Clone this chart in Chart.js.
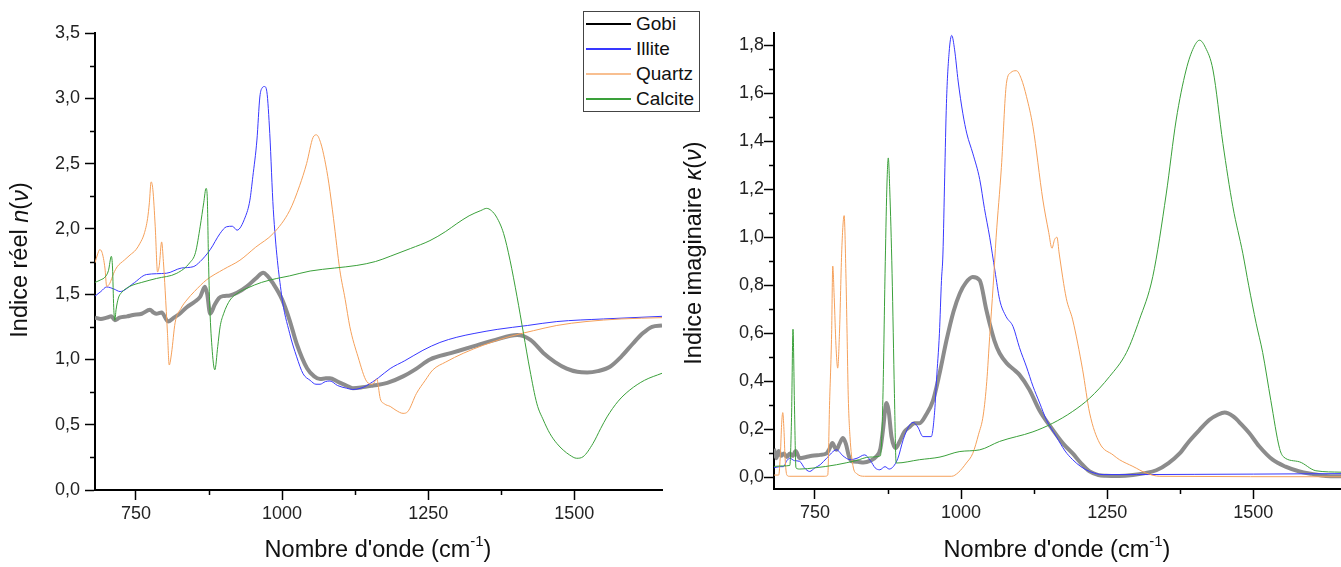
<!DOCTYPE html>
<html lang="fr">
<head>
<meta charset="UTF-8">
<title>Indices optiques</title>
<script src="https://cdn.jsdelivr.net/npm/chart.js"></script>
<style>
  body { margin: 0; background: #fff; }
  #wrap { position: relative; width: 1341px; height: 567px; }
  canvas { position: absolute; top: 0; }
  #nChart { left: 0; }
  #kChart { left: 680px; }
  .legend { position: absolute; left: 583px; top: 11px; width: 115px; height: 99px;
            border: 1px solid #444; background: #fff; font: 19px "Liberation Sans", Arial, sans-serif; color: #111; }
  .legend .row { position: absolute; left: 0; height: 25px; width: 100%; }
  .legend .sw { position: absolute; left: 2px; width: 45px; top: 11px; height: 2px; }
  .legend .lb { position: absolute; left: 52px; top: 0px; line-height: 23px; }
</style>
</head>
<body>
<div id="wrap">
  <canvas id="nChart" width="680" height="567"></canvas>
  <canvas id="kChart" width="661" height="567"></canvas>
  <div class="legend" id="legend"></div>
</div>

<script>
// ---------- left panel : real index n(v) ----------
const nGobiX = [680,690,700,708,714,722,735,745,760,774,780,785,794,805,815,825,837,850,860,868,872,877,885,892,899,911,923,940,955,968,975,985,1000,1013,1025,1043,1055,1065,1075,1082,1095,1110,1121,1135,1156,1180,1207,1230,1253,1290,1327,1365,1402,1425,1447,1467,1487,1505,1522,1540,1561,1580,1600,1617,1633,1650];
const nGobiY = [1.32,1.31,1.32,1.33,1.30,1.32,1.33,1.34,1.35,1.38,1.36,1.35,1.36,1.29,1.32,1.35,1.40,1.44,1.48,1.556,1.50,1.35,1.42,1.47,1.485,1.49,1.51,1.56,1.62,1.664,1.64,1.58,1.46,1.30,1.12,0.93,0.87,0.85,0.855,0.855,0.83,0.80,0.78,0.785,0.80,0.82,0.87,0.93,1.00,1.05,1.10,1.15,1.187,1.15,1.05,0.98,0.93,0.905,0.90,0.91,0.944,1.02,1.12,1.20,1.25,1.26];

const nIlliteX = [680,690,700,712,723,745,768,802,828,848,860,877,894,905,915,923,937,945,950,957,962,966,970,974,979,985,999,1013,1025,1036,1048,1058,1065,1074,1082,1095,1110,1121,1135,1145,1165,1185,1210,1241,1270,1299,1330,1368,1420,1470,1550,1650];
const nIlliteY = [1.485,1.52,1.555,1.54,1.52,1.58,1.65,1.66,1.70,1.71,1.75,1.84,1.965,2.016,2.02,1.99,2.09,2.22,2.40,2.68,3.01,3.08,3.09,3.05,2.73,2.15,1.50,1.20,1.02,0.89,0.84,0.81,0.81,0.83,0.835,0.80,0.78,0.77,0.78,0.80,0.86,0.93,0.99,1.07,1.13,1.17,1.20,1.23,1.26,1.29,1.31,1.33];

const nQuartzX = [680,684,688,692,697,700,705,712,718,730,740,750,757,764,770,773,776,779,783,787,790,794,797,800,804,807,811,817,827,837,850,871,900,928,955,985,1013,1030,1042,1053,1059,1066,1073,1080,1088,1099,1108,1116,1130,1145,1155,1162,1168,1175,1185,1195,1207,1215,1230,1245,1258,1280,1310,1345,1385,1430,1470,1520,1580,1650];
const nQuartzY = [1.74,1.80,1.84,1.82,1.70,1.56,1.58,1.66,1.71,1.76,1.80,1.84,1.89,1.96,2.08,2.20,2.36,2.30,2.02,1.67,1.72,1.90,1.75,1.53,1.20,0.957,1.05,1.28,1.39,1.455,1.52,1.61,1.69,1.76,1.86,1.965,2.14,2.33,2.50,2.70,2.72,2.66,2.53,2.35,2.08,1.68,1.46,1.25,1.02,0.83,0.81,0.85,0.70,0.66,0.64,0.61,0.587,0.60,0.74,0.84,0.92,0.98,1.047,1.11,1.17,1.22,1.26,1.29,1.31,1.32];

const nCalciteX = [680,690,697,703,708,710,712,714,716,720,725,740,760,785,820,842,852,860,866,870,872,874,876,880,885,890,894,900,911,925,940,965,991,1013,1048,1090,1128,1160,1185,1220,1253,1280,1299,1320,1340,1350,1358,1367,1379,1390,1402,1413,1424,1436,1447,1458,1470,1481,1492,1504,1515,1532,1545,1556,1575,1595,1620,1650];
const nCalciteY = [1.59,1.61,1.63,1.68,1.79,1.70,1.40,1.30,1.38,1.47,1.51,1.56,1.59,1.62,1.66,1.74,1.82,2.02,2.20,2.31,2.25,1.80,1.45,1.10,0.92,1.10,1.25,1.35,1.455,1.51,1.545,1.59,1.62,1.64,1.677,1.70,1.72,1.75,1.79,1.85,1.91,1.98,2.04,2.10,2.14,2.157,2.14,2.09,1.965,1.76,1.48,1.20,0.92,0.66,0.536,0.434,0.357,0.306,0.268,0.243,0.255,0.357,0.47,0.56,0.68,0.766,0.84,0.894];

// ---------- right panel : imaginary index k(v) ----------
const kGobiX = [680,684,688,692,697,702,707,712,717,724,735,745,759,770,775,780,784,787,792,798,803,808,813,823,833,845,855,862,867,870,872.5,876,881,888,895,903,912,920,929,940,952,963,975,987,998,1008,1020,1032,1043,1049,1057,1066,1078,1090,1100,1117,1134,1157,1175,1191,1205,1220,1235,1248,1270,1294,1315,1334,1355,1374,1390,1408,1425,1440,1451,1465,1480,1493,1510,1533,1555,1579,1600,1624,1650];
const kGobiY = [0.12,0.08,0.11,0.09,0.10,0.085,0.10,0.09,0.11,0.08,0.085,0.09,0.094,0.10,0.12,0.143,0.125,0.115,0.14,0.164,0.14,0.09,0.067,0.065,0.062,0.07,0.087,0.12,0.21,0.28,0.31,0.28,0.17,0.122,0.15,0.19,0.21,0.226,0.226,0.26,0.32,0.43,0.57,0.69,0.767,0.81,0.834,0.82,0.70,0.64,0.57,0.517,0.476,0.45,0.427,0.365,0.28,0.198,0.14,0.10,0.06,0.025,0.01,0.007,0.006,0.01,0.018,0.03,0.06,0.10,0.15,0.198,0.24,0.262,0.27,0.255,0.22,0.185,0.13,0.074,0.045,0.025,0.015,0.006,0.005];

const kIlliteX = [680,690,696,702,707,715,724,732,741,750,759,770,787,798,810,822,835,845,853,861,870,877,884,892,901,910,918,926,935,949,955,958,963,966.5,969,972,975,979.6,984,989,995,1003,1010,1020,1032,1040,1049,1058,1066,1077,1089,1100,1112,1123,1134.5,1146,1163,1178,1191,1205,1220,1243,1300,1400,1500,1650];
const kIlliteY = [0.04,0.045,0.045,0.07,0.08,0.07,0.067,0.04,0.025,0.04,0.053,0.08,0.115,0.09,0.074,0.08,0.094,0.07,0.04,0.032,0.045,0.035,0.045,0.08,0.157,0.21,0.229,0.21,0.17,0.17,0.28,0.406,0.60,0.82,0.93,1.25,1.557,1.77,1.84,1.78,1.65,1.516,1.43,1.35,1.24,1.12,1.00,0.86,0.74,0.67,0.628,0.54,0.46,0.38,0.31,0.24,0.17,0.11,0.074,0.045,0.025,0.012,0.012,0.013,0.014,0.016];

const kQuartzX = [680,688,691,693,695,697,699,702,706,767,772,775,778.6,780.5,783,786,789,792,796,800,803,805,807,810,815,822,835,984,995,1009,1020,1030,1038,1044,1049,1055,1060,1069,1077.6,1085,1094.7,1103,1112,1123,1140,1150,1155.5,1160,1164,1168,1180,1191,1208,1220,1237,1260,1271,1294,1317,1340,1650];
const kQuartzY = [0.01,0.01,0.10,0.22,0.27,0.20,0.08,0.01,0.005,0.005,0.01,0.30,0.60,0.88,0.75,0.55,0.455,0.60,0.95,1.09,0.85,0.60,0.34,0.17,0.05,0.015,0.005,0.005,0.02,0.06,0.10,0.18,0.26,0.40,0.587,0.80,1.00,1.29,1.64,1.685,1.693,1.66,1.585,1.46,1.155,1.02,0.954,0.99,1.00,0.93,0.746,0.656,0.448,0.268,0.143,0.094,0.074,0.046,0.018,0.005,0.003];

const kCalciteX = [680,695,707,710,712.5,715,717.6,724,750,787,820,844,862,866,870,873,875.5,878,882,886,889,929,964,998,1032,1066,1123,1157,1191,1220,1254,1283,1305,1328,1351,1368,1385,1398,1408,1418,1431,1448,1465,1482,1492,1505,1516,1530,1545,1552,1579,1607,1650];
const kCalciteY = [0.046,0.048,0.05,0.25,0.617,0.30,0.04,0.035,0.04,0.053,0.07,0.085,0.09,0.30,0.85,1.20,1.33,1.20,0.85,0.35,0.06,0.074,0.085,0.108,0.115,0.15,0.19,0.226,0.275,0.33,0.42,0.52,0.656,0.836,1.18,1.488,1.696,1.79,1.82,1.79,1.696,1.39,1.127,0.933,0.80,0.64,0.52,0.32,0.12,0.085,0.065,0.028,0.022];

// ---------- axes ----------
const xMajor = [750, 1000, 1250, 1500];
const xMinor = [875, 1125, 1375];
const nMajor = [0, 0.5, 1, 1.5, 2, 2.5, 3, 3.5];
const nMinor = [0.25, 0.75, 1.25, 1.75, 2.25, 2.75, 3.25];
const kMajor = [0, 0.2, 0.4, 0.6, 0.8, 1, 1.2, 1.4, 1.6, 1.8];
const kMinor = [0.1, 0.3, 0.5, 0.7, 0.9, 1.1, 1.3, 1.5, 1.7];

const seriesNames = ['Gobi', 'Illite', 'Quartz', 'Calcite'];
const lineColors = ['#8c8c8c', '#3838ff', '#f5a05a', '#3aa03a'];
const legendColors = ['#000000', '#3838ff', '#f8bf90', '#3aa03a'];

const FONT = '"Liberation Sans", Arial, sans-serif';
const xTitle = [{ t: "Nombre d'onde (cm" }, { t: '-1', sup: true }, { t: ')' }];
const nTitle = [{ t: 'Indice réel ' }, { t: 'n', it: true }, { t: '(' }, { t: 'ν', it: true }, { t: ')' }];
const kTitle = [{ t: 'Indice imaginaire ' }, { t: 'κ', it: true }, { t: '(' }, { t: 'ν', it: true }, { t: ')' }];

function pts(xs, ys) {
    return xs.map((x, i) => ({ x: x, y: ys[i] }));
}

function partFont(p) {
    if (p.sup) return '15px ' + FONT;
    return (p.it ? 'italic ' : '') + '23.5px ' + FONT;
}

function drawRich(ctx, parts, cx, cy, rot) {
    ctx.save();
    ctx.translate(cx, cy);
    ctx.rotate(rot);
    ctx.textBaseline = 'middle';
    ctx.textAlign = 'left';
    ctx.fillStyle = '#111';
    let w = 0;
    parts.forEach(p => { ctx.font = partFont(p); w += ctx.measureText(p.t).width; });
    let pos = -w / 2;
    parts.forEach(p => {
        ctx.font = partFont(p);
        ctx.fillText(p.t, pos, p.sup ? -9 : 0);
        pos += ctx.measureText(p.t).width;
    });
    ctx.restore();
}

// minor ticks and rich axis titles
const extras = {
    id: 'extras',
    afterDraw(chart, args, opts) {
        const { ctx, scales: { x, y } } = chart;
        ctx.save();
        ctx.strokeStyle = '#000';
        ctx.lineWidth = 1.5;
        ctx.beginPath();
        opts.xMinor.forEach(v => {
            const p = Math.round(x.getPixelForValue(v)) + 0.5;
            ctx.moveTo(p, x.top); ctx.lineTo(p, x.top + 5);
        });
        opts.yMinor.forEach(v => {
            const p = Math.round(y.getPixelForValue(v)) + 0.5;
            ctx.moveTo(y.right, p); ctx.lineTo(y.right - 5, p);
        });
        ctx.stroke();
        ctx.restore();
        drawRich(ctx, opts.xTitle, opts.xPos[0], opts.xPos[1], 0);
        drawRich(ctx, opts.yTitle, opts.yPos[0], opts.yPos[1], -Math.PI / 2);
    }
};

function makePanel(id, sets, cfg) {
    const datasets = sets.map((s, i) => ({
        label: seriesNames[i],
        data: pts(s[0], s[1]),
        borderColor: lineColors[i],
        borderWidth: i === 0 ? 4 : 1,
        pointRadius: 0,
        fill: false,
        cubicInterpolationMode: 'monotone',
        order: i === 0 ? 10 : 5 - i
    }));
    const tickFont = { family: FONT, size: 18 };
    return new Chart(document.getElementById(id), {
        type: 'line',
        data: { datasets: datasets },
        options: {
            responsive: false,
            animation: false,
            layout: { padding: { left: 0, top: 33, right: cfg.padRight, bottom: 0 } },
            plugins: {
                legend: { display: false },
                tooltip: { enabled: false },
                extras: {
                    xMinor: xMinor, yMinor: cfg.yMinor,
                    xTitle: xTitle, yTitle: cfg.yTitle,
                    xPos: cfg.xPos, yPos: cfg.yPos
                }
            },
            scales: {
                x: {
                    type: 'linear', min: 680, max: 1650,
                    afterBuildTicks: a => { a.ticks = xMajor.map(v => ({ value: v })); },
                    afterFit: s => { s.height = cfg.xHeight; },
                    border: { color: '#000', width: 2 },
                    grid: { drawOnChartArea: false, drawTicks: true, tickLength: 10, tickColor: '#000', tickWidth: 1.5 },
                    ticks: { color: '#222', font: tickFont, padding: 3, maxRotation: 0, callback: v => String(v) }
                },
                y: {
                    type: 'linear', min: cfg.yMin, max: cfg.yMax,
                    afterBuildTicks: a => { a.ticks = cfg.yMajor.map(v => ({ value: v })); },
                    afterFit: s => { s.width = cfg.yWidth; },
                    border: { color: '#000', width: 2 },
                    grid: { drawOnChartArea: false, drawTicks: true, tickLength: 10, tickColor: '#000', tickWidth: 1.5 },
                    ticks: { color: '#222', font: tickFont, padding: cfg.yPad, callback: v => v.toFixed(1).replace('.', ',') }
                }
            }
        },
        plugins: [extras]
    });
}

makePanel('nChart',
    [[nGobiX, nGobiY], [nIlliteX, nIlliteY], [nQuartzX, nQuartzY], [nCalciteX, nCalciteY]],
    { yMin: 0, yMax: 3.5, yMajor: nMajor, yMinor: nMinor, yTitle: nTitle, yPad: 5,
      yWidth: 95, xHeight: 77, padRight: 18, xPos: [378, 551], yPos: [21, 260] });

makePanel('kChart',
    [[kGobiX, kGobiY], [kIlliteX, kIlliteY], [kQuartzX, kQuartzY], [kCalciteX, kCalciteY]],
    { yMin: -0.048, yMax: 1.85, yMajor: kMajor, yMinor: kMinor, yTitle: kTitle, yPad: 0,
      yWidth: 94, xHeight: 78, padRight: 0, xPos: [377, 551], yPos: [14.5, 253] });

// legend box (spans across both panels)
const legend = document.getElementById('legend');
seriesNames.forEach((name, i) => {
    const row = document.createElement('div');
    row.className = 'row';
    row.style.top = (i * 25) + 'px';
    const sw = document.createElement('div');
    sw.className = 'sw';
    sw.style.background = legendColors[i];
    const lb = document.createElement('div');
    lb.className = 'lb';
    lb.textContent = name;
    row.appendChild(sw);
    row.appendChild(lb);
    legend.appendChild(row);
});
</script>
</body>
</html>
